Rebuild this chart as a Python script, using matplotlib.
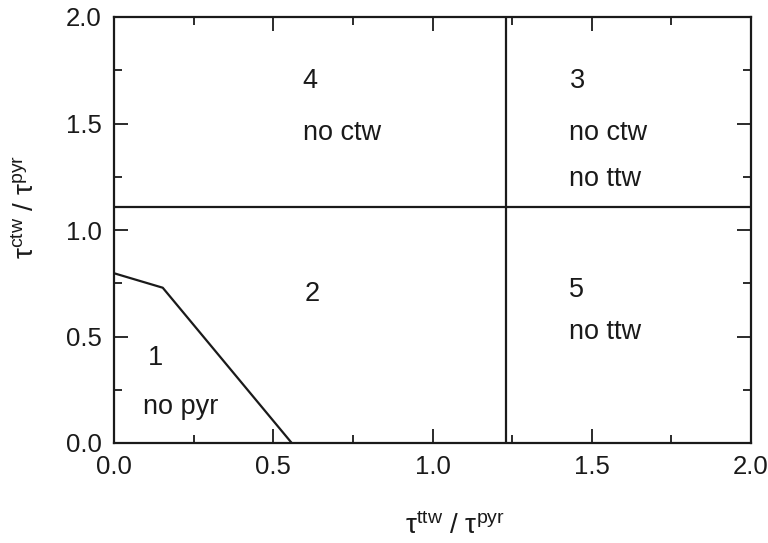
import matplotlib
matplotlib.use("Agg")
import matplotlib.pyplot as plt
from matplotlib.ticker import MultipleLocator

plt.rcParams['font.family'] = ['Liberation Sans', 'DejaVu Sans']
plt.rcParams['mathtext.fontset'] = 'custom'
plt.rcParams['mathtext.rm'] = 'Liberation Sans'
plt.rcParams['mathtext.it'] = 'Liberation Sans:italic'
plt.rcParams['mathtext.default'] = 'regular'

# boundary data
boundary_x = [0.0, 0.153, 0.558]
boundary_y = [0.797, 0.729, 0.0]
vline_x = 1.23
hline_y = 1.11

# region labels: (x, y, text)
label_x = [0.593, 0.593, 1.43, 1.43, 1.43, 0.60, 1.43, 1.43, 0.107, 0.09]
label_y = [1.70, 1.455, 1.70, 1.455, 1.24, 0.70, 0.72, 0.52, 0.40, 0.17]
label_text = ["4", "no ctw", "3", "no ctw", "no ttw", "2", "5", "no ttw", "1", "no pyr"]

xticks = [0.0, 0.5, 1.0, 1.5, 2.0]
yticks = [0.0, 0.5, 1.0, 1.5, 2.0]

fig = plt.figure(figsize=(7.68, 5.43), dpi=100)
ax = fig.add_axes([114/768, 1 - 443/543, 637/768, 426/543])

ax.plot(boundary_x, boundary_y, color='#1a1a1a', lw=1.6)
ax.axvline(vline_x, color='#1a1a1a', lw=1.6)
ax.axhline(hline_y, color='#1a1a1a', lw=1.6)

for x, y, t in zip(label_x, label_y, label_text):
    ax.text(x, y, t, fontsize=19.5, ha='left', va='center', color='#1a1a1a')

ax.set_xlim(0, 2)
ax.set_ylim(0, 2)
ax.set_xticks(xticks)
ax.set_yticks(yticks)
ax.set_xticklabels([f"{v:.1f}" for v in xticks])
ax.set_yticklabels([f"{v:.1f}" for v in yticks])
ax.xaxis.set_minor_locator(MultipleLocator(0.25))
ax.yaxis.set_minor_locator(MultipleLocator(0.25))
ax.tick_params(which='both', direction='in', top=True, right=True, labelsize=18.5,
               colors='#1a1a1a', width=1.3)
ax.tick_params(which='major', length=10, pad=9)
ax.tick_params(which='minor', length=6)
for s in ax.spines.values():
    s.set_linewidth(1.6)
    s.set_color('#1a1a1a')

fig.text(455/768, 1 - 526/543, r'$\tau^{ttw}$ / $\tau^{pyr}$',
         fontsize=20, ha='center', va='center', color='#1a1a1a')
fig.text(26/768, 1 - 207/543, r'$\tau^{ctw}$ / $\tau^{pyr}$',
         fontsize=20, ha='center', va='center', rotation=90, color='#1a1a1a')

fig.savefig("out.png", dpi=100)
